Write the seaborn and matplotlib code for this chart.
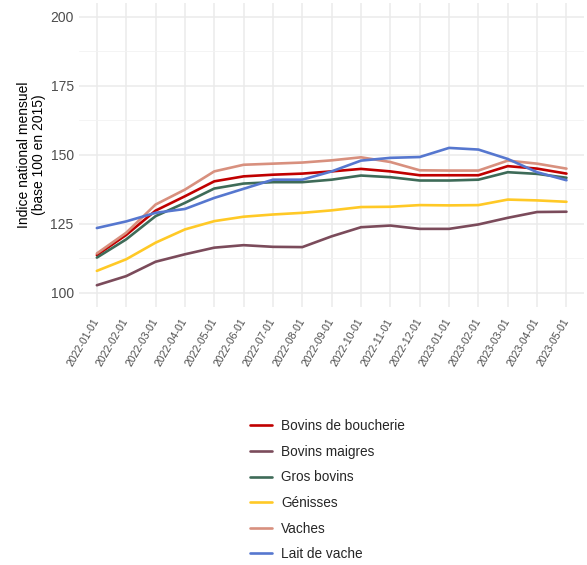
import pandas as pd
import matplotlib.pyplot as plt
import seaborn as sns
from matplotlib.ticker import MultipleLocator

mois = ['2022-01-01', '2022-02-01', '2022-03-01', '2022-04-01', '2022-05-01',
        '2022-06-01', '2022-07-01', '2022-08-01', '2022-09-01', '2022-10-01',
        '2022-11-01', '2022-12-01', '2023-01-01', '2023-02-01', '2023-03-01',
        '2023-04-01', '2023-05-01']

bovins_boucherie = [113.7, 121.0, 129.8, 135.0, 140.4, 142.2, 142.8, 143.2, 144.0,
                    144.9, 144.0, 142.6, 142.6, 142.6, 145.9, 145.0, 143.2]
bovins_maigres = [102.8, 106.1, 111.3, 114.0, 116.4, 117.3, 116.7, 116.6, 120.5,
                  123.8, 124.4, 123.2, 123.2, 124.8, 127.2, 129.3, 129.4]
gros_bovins = [112.8, 119.4, 127.8, 132.6, 137.8, 139.6, 140.1, 140.1, 141.0,
               142.5, 141.9, 140.7, 140.7, 141.0, 143.7, 143.1, 141.7]
genisses = [108.0, 112.2, 118.2, 123.0, 126.0, 127.6, 128.4, 129.0, 129.9,
            131.1, 131.2, 131.8, 131.7, 131.8, 133.8, 133.5, 133.0]
vaches = [114.3, 121.8, 132.0, 137.4, 144.0, 146.4, 146.8, 147.2, 148.0,
          149.1, 147.4, 144.4, 144.3, 144.3, 147.9, 146.8, 145.0]
lait_vache = [123.5, 125.9, 129.0, 130.4, 134.4, 137.7, 141.0, 141.0, 144.0,
              147.9, 148.9, 149.2, 152.5, 151.9, 148.5, 143.7, 140.8]

series = {
    'Bovins de boucherie': bovins_boucherie,
    'Bovins maigres': bovins_maigres,
    'Gros bovins': gros_bovins,
    'Génisses': genisses,
    'Vaches': vaches,
    'Lait de vache': lait_vache,
}
couleurs = ['#C00000', '#7B4B5B', '#3E6B58', '#FFC926', '#D8907E', '#5677CF']

df = pd.DataFrame([
    {'mois': m, 'pos': i, 'serie': nom, 'indice': v}
    for nom, vals in series.items()
    for i, (m, v) in enumerate(zip(mois, vals))
])

sns.set_theme(style='whitegrid')
plt.rcParams['font.family'] = ['Liberation Sans', 'DejaVu Sans']

fig = plt.figure(figsize=(5.87, 5.65), dpi=100)
ax = fig.add_axes([0.135, 0.457, 0.86, 0.538])

sns.lineplot(data=df, x='pos', y='indice', hue='serie', palette=couleurs,
             linewidth=1.9, ax=ax, legend=False)

ax.set_xlim(-0.6, len(mois) - 0.4)
ax.set_ylim(95, 205)
ax.set_xticks(range(len(mois)))
ax.set_xticklabels(mois, rotation=60, ha='right', va='center',
                   rotation_mode='anchor', fontsize=7.6, color='#4D4D4D')
ax.set_yticks([100, 125, 150, 175, 200])
ax.yaxis.set_minor_locator(MultipleLocator(12.5))
ax.tick_params(axis='y', labelsize=10, labelcolor='#4D4D4D', length=0, pad=4)
ax.tick_params(axis='x', length=0, pad=9)
ax.grid(True, which='major', color='#EBEBEB', linewidth=1.1)
ax.grid(True, which='minor', axis='y', color='#F2F2F2', linewidth=0.6)
for s in ax.spines.values():
    s.set_visible(False)
ax.set_xlabel('')
ax.set_ylabel('Indice national mensuel\n(base 100 en 2015)', fontsize=10,
              color='black', linespacing=1.1, labelpad=3)

handles = [plt.Line2D([], [], color=c, linewidth=1.9) for c in couleurs]
fig.legend(handles, list(series.keys()), loc='upper left',
           bbox_to_anchor=(0.415, 0.27), frameon=False, fontsize=9.8,
           handlelength=1.55, handletextpad=0.7, labelspacing=0.85,
           borderpad=0)

fig.savefig('out.png', dpi=100)
